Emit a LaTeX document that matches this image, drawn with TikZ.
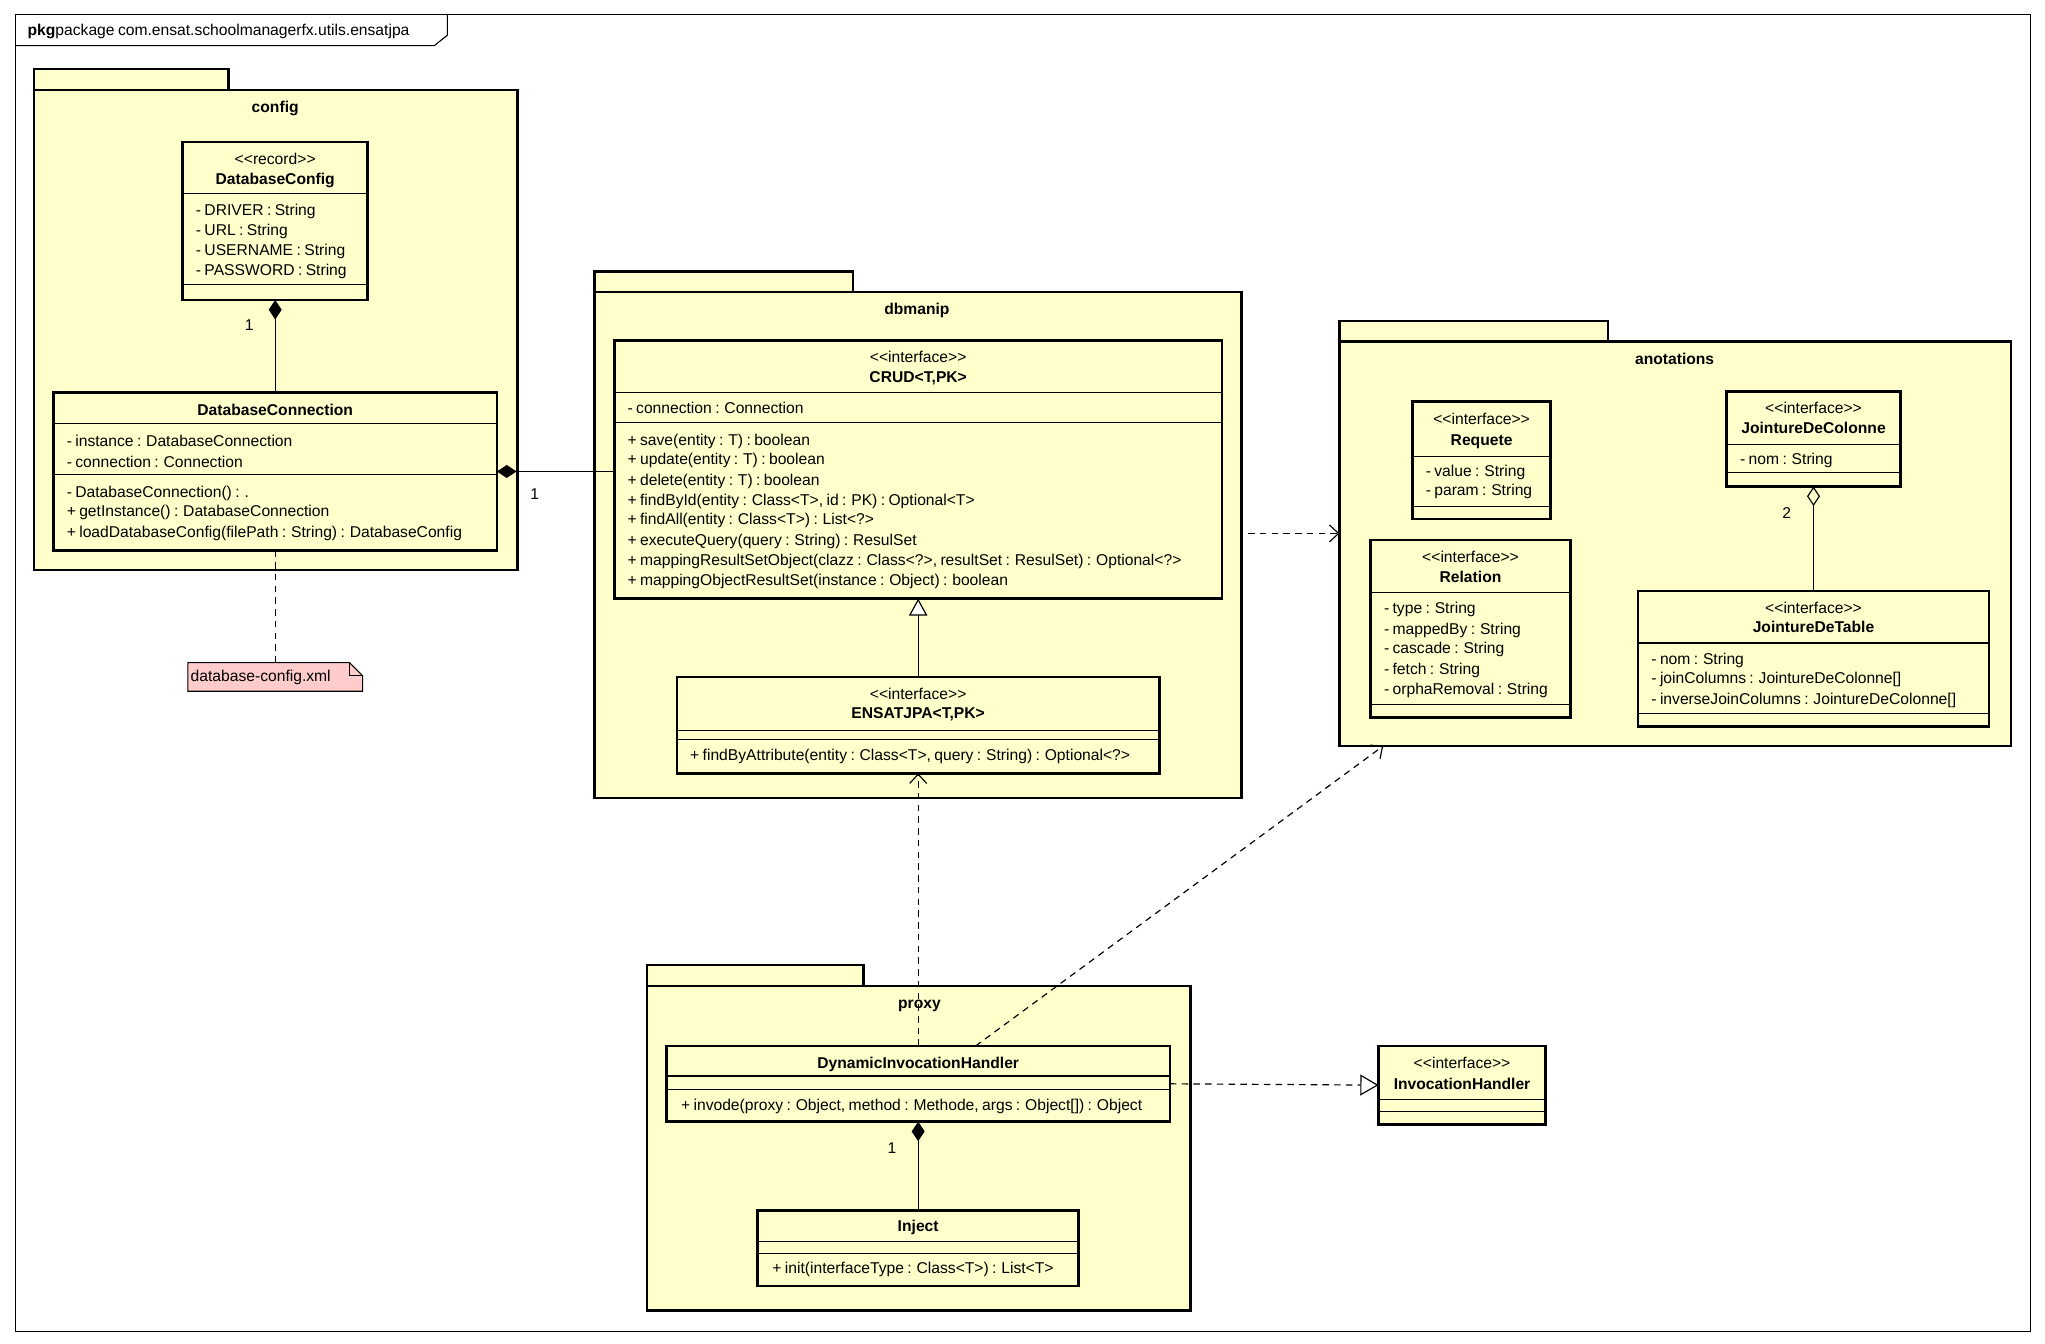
\documentclass[tikz,border=0pt]{standalone}
\usepackage{fontspec}
\setmainfont{Liberation Sans}[WordSpace=0.78]
\usetikzlibrary{arrows.meta,calc}
\definecolor{pkgfill}{HTML}{FFFFCC}
\definecolor{notefill}{HTML}{FFCCCC}
\newcommand\stereo[1]{<{}<#1>{}>}
\tikzset{
  box/.style={draw, line width=2pt, fill=pkgfill, inner sep=0pt, outer sep=0pt, anchor=north west},
  sepline/.style={line width=0.8pt},
  txt/.style={inner sep=0pt, anchor=west, text height=8.5pt, text depth=0pt},
  ctr/.style={inner sep=0pt, text height=8.5pt, text depth=0pt},
  nm/.style={ctr, font=\fontsize{12}{14}\selectfont\bfseries},
  conn/.style={line width=0.9pt},
  dsh/.style={dash pattern=on 5pt off 4pt},
  dep/.style={conn, dsh, -{Straight Barb[length=7pt,width=13pt]}},
  comp/.style={conn, -{Diamond[length=15pt,width=10pt]}},
  aggr/.style={conn, -{Diamond[open,length=15pt,width=10pt]}},
  gen/.style={conn, -{Triangle[open,fill=white,length=13pt,width=14pt]}},
}
\begin{document}
\begin{tikzpicture}[x=1pt,y=-1pt,font=\fontsize{12}{14}\selectfont]
\useasboundingbox[fill=white] (0,0) rectangle (1568,1030.5);
% outer frame
\node[draw, line width=0.8pt, inner sep=0pt, outer sep=0pt, anchor=north west, minimum width=1545pt, minimum height=1010pt] (frame) at (12,11) {};
\draw[line width=0.8pt] (12,35) -- (333,35) -- (343,27) -- (343,11);
\node[txt] (hdr) at (21,23) {\textbf{pkg}package com.ensat.schoolmanagerfx.utils.ensatjpa};

% ---------------- packages
\draw[line width=2pt, fill=pkgfill] (26,53) rectangle (175,69);
\node[box, minimum width=371pt, minimum height=368pt] (config) at (26,69) {};
\node[nm] (configlbl) at (211,82) {config};

\draw[line width=2pt, fill=pkgfill] (456,208) rectangle (654,224);
\node[box, minimum width=496pt, minimum height=388pt] (dbmanip) at (456,224) {};
\node[nm] (dbmaniplbl) at (703,237) {dbmanip};

\draw[line width=2pt, fill=pkgfill] (1027,246) rectangle (1233,262);
\node[box, minimum width=515pt, minimum height=310pt] (anot) at (1027,262) {};
\node[nm] (anotlbl) at (1284,275) {anotations};

\draw[line width=2pt, fill=pkgfill] (496,740) rectangle (662,756);
\node[box, minimum width=417pt, minimum height=249pt] (proxy) at (496,756) {};
\node[nm] (proxylbl) at (705,769) {proxy};

% ---------------- DatabaseConfig
\node[box, minimum width=142pt, minimum height=121pt] (dbconfig) at (140,109) {};
\node[ctr] (dbconfig-s) at (211,122) {\stereo{record}};
\node[nm] (dbconfig-n) at (211,137) {DatabaseConfig};
\draw[sepline] (140,148) -- (282,148);
\node[txt] (dbconfig-a1) at (150,161) {- DRIVER : String};
\node[txt] (dbconfig-a2) at (150,176) {- URL : String};
\node[txt] (dbconfig-a3) at (150,192) {- USERNAME : String};
\node[txt] (dbconfig-a4) at (150,207) {- PASSWORD : String};
\draw[sepline] (140,218) -- (282,218);

% ---------------- DatabaseConnection
\node[box, minimum width=340pt, minimum height=121pt] (dbconn) at (41,301) {};
\node[nm] (dbconn-n) at (211,314) {DatabaseConnection};
\draw[sepline] (41,325) -- (381,325);
\node[txt] (dbconn-a1) at (51,338) {- instance : DatabaseConnection};
\node[txt] (dbconn-a2) at (51,354) {- connection : Connection};
\draw[sepline] (41,364) -- (381,364);
\node[txt] (dbconn-m1) at (51,377) {- DatabaseConnection() : .};
\node[txt] (dbconn-m2) at (51,392) {+ getInstance() : DatabaseConnection};
\node[txt] (dbconn-m3) at (51,408) {+ loadDatabaseConfig(filePath : String) : DatabaseConfig};

% ---------------- note
\node[inner sep=0pt, outer sep=0pt, minimum width=134pt, minimum height=22pt, anchor=north west] (note) at (144,508) {};
\draw[line width=0.8pt, fill=notefill] (144,508) -- (268,508) -- (278,518) -- (278,530) -- (144,530) -- cycle;
\draw[line width=0.8pt] (268,508) -- (268,518) -- (278,518);
\node[txt] (note-t) at (146,518) {database-config.xml};

% ---------------- CRUD
\node[box, minimum width=466pt, minimum height=198pt] (crud) at (471,261) {};
\node[ctr] (crud-s) at (704,274) {\stereo{interface}};
\node[nm] (crud-n) at (704,289) {CRUD<T,PK>};
\draw[sepline] (471,301) -- (937,301);
\node[txt] (crud-a1) at (481,313) {- connection : Connection};
\draw[sepline] (471,324) -- (937,324);
\node[txt] (crud-m1) at (481,337) {+ save(entity : T) : boolean};
\node[txt] (crud-m2) at (481,352) {+ update(entity : T) : boolean};
\node[txt] (crud-m3) at (481,368) {+ delete(entity : T) : boolean};
\node[txt] (crud-m4) at (481,383) {+ findById(entity : Class<T>, id : PK) : Optional<T>};
\node[txt] (crud-m5) at (481,398) {+ findAll(entity : Class<T>) : List<?>};
\node[txt] (crud-m6) at (481,414) {+ executeQuery(query : String) : ResulSet};
\node[txt] (crud-m7) at (481,429) {+ mappingResultSetObject(clazz : Class<?>, resultSet : ResulSet) : Optional<?>};
\node[txt] (crud-m8) at (481,445) {+ mappingObjectResultSet(instance : Object) : boolean};

% ---------------- ENSATJPA
\node[box, minimum width=370pt, minimum height=74pt] (ensatjpa) at (519,519) {};
\node[ctr] (ensatjpa-s) at (704,532) {\stereo{interface}};
\node[nm] (ensatjpa-n) at (704,547) {ENSATJPA<T,PK>};
\draw[sepline] (519,560) -- (889,560);
\draw[sepline] (519,567) -- (889,567);
\node[txt] (ensatjpa-m1) at (529,579) {+ findByAttribute(entity : Class<T>, query : String) : Optional<?>};

% ---------------- Requete
\node[box, minimum width=106pt, minimum height=90pt] (requete) at (1083,308) {};
\node[ctr] (requete-s) at (1136,321) {\stereo{interface}};
\node[nm] (requete-n) at (1136,337) {Requete};
\draw[sepline] (1083,350) -- (1189,350);
\node[txt] (requete-a1) at (1093,361) {- value : String};
\node[txt] (requete-a2) at (1093,376) {- param : String};
\draw[sepline] (1083,388) -- (1189,388);

% ---------------- Relation
\node[box, minimum width=153pt, minimum height=136pt] (relation) at (1051,414) {};
\node[ctr] (relation-s) at (1127.5,427) {\stereo{interface}};
\node[nm] (relation-n) at (1127.5,442) {Relation};
\draw[sepline] (1051,454) -- (1204,454);
\node[txt] (relation-a1) at (1061,466) {- type : String};
\node[txt] (relation-a2) at (1061,482) {- mappedBy : String};
\node[txt] (relation-a3) at (1061,497) {- cascade : String};
\node[txt] (relation-a4) at (1061,513) {- fetch : String};
\node[txt] (relation-a5) at (1061,528) {- orphaRemoval : String};
\draw[sepline] (1051,540) -- (1204,540);

% ---------------- JointureDeColonne
\node[box, minimum width=133pt, minimum height=73pt] (jdc) at (1324,300) {};
\node[ctr] (jdc-s) at (1390.5,313) {\stereo{interface}};
\node[nm] (jdc-n) at (1390.5,328) {JointureDeColonne};
\draw[sepline] (1324,341) -- (1457,341);
\node[txt] (jdc-a1) at (1334,352) {- nom : String};
\draw[sepline] (1324,362) -- (1457,362);

% ---------------- JointureDeTable
\node[box, minimum width=269pt, minimum height=104pt] (jdt) at (1256,453) {};
\node[ctr] (jdt-s) at (1390.5,466) {\stereo{interface}};
\node[nm] (jdt-n) at (1390.5,481) {JointureDeTable};
\draw[sepline] (1256,493) -- (1525,493);
\node[txt] (jdt-a1) at (1266,505) {- nom : String};
\node[txt] (jdt-a2) at (1266,520) {- joinColumns : JointureDeColonne[]};
\node[txt] (jdt-a3) at (1266,536) {- inverseJoinColumns : JointureDeColonne[]};
\draw[sepline] (1256,547) -- (1525,547);

% ---------------- DynamicInvocationHandler
\node[box, minimum width=386pt, minimum height=58pt] (dih) at (511,802) {};
\node[nm] (dih-n) at (704,815) {DynamicInvocationHandler};
\draw[sepline] (511,825) -- (897,825);
\draw[sepline] (511,835) -- (897,835);
\node[txt] (dih-m1) at (522,847) {+ invode(proxy : Object, method : Methode, args : Object[]) : Object};

% ---------------- Inject
\node[box, minimum width=246pt, minimum height=58pt] (inject) at (581,928) {};
\node[nm] (inject-n) at (704,940) {Inject};
\draw[sepline] (581,952) -- (827,952);
\draw[sepline] (581,961) -- (827,961);
\node[txt] (inject-m1) at (592,972) {+ init(interfaceType : Class<T>) : List<T>};

% ---------------- InvocationHandler
\node[box, minimum width=128pt, minimum height=60pt] (invh) at (1057,802) {};
\node[ctr] (invh-s) at (1121,815) {\stereo{interface}};
\node[nm] (invh-n) at (1121,831) {InvocationHandler};
\draw[sepline] (1057,843) -- (1185,843);
\draw[sepline] (1057,852) -- (1185,852);

% ---------------- connectors
\draw[comp] (dbconn.north) -- (dbconfig.south);
\node[ctr] (m1) at (191,249) {1};
\draw[comp] (crud.west |- dbconn.east) -- (dbconn.east);
\node[ctr] (m2) at (410,379) {1};
\draw[conn, dsh] (dbconn.south) -- (note.north);
\draw[gen] (ensatjpa.north) -- (crud.south);
\coordinate (d1) at ($(dbmanip.east)+(5,-9)$);
\draw[dep] (d1) -- (d1 -| anot.west);
\draw[dep] (dih.north) -- (ensatjpa.south);
\coordinate (d2) at ($(dih.north)+(44,0)$);
\coordinate (d3) at ($(anot.south)+(-224,0)$);
\draw[dep] (d2) -- (d3);
\draw[conn, dsh, -{Triangle[open,fill=white,length=14pt,width=16pt]}] (dih.east) -- (invh.west);
\draw[comp] (inject.north) -- (dih.south);
\node[ctr] (m3) at (684,880) {1};
\draw[aggr] (jdt.north) -- (jdc.south);
\node[ctr] (m4) at (1370,393) {2};
\end{tikzpicture}
\end{document}
